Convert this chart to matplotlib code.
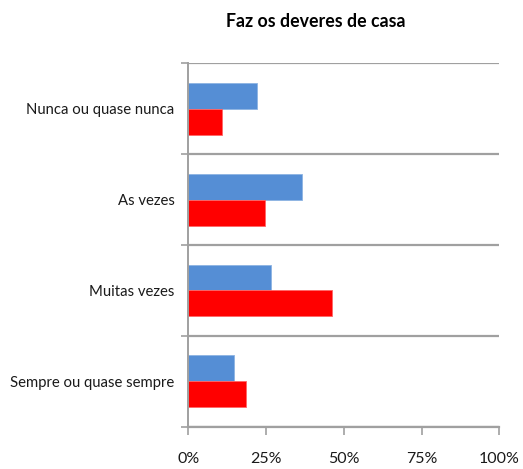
import matplotlib
matplotlib.use("Agg")
import matplotlib.pyplot as plt
import numpy as np
from matplotlib.ticker import FixedLocator, PercentFormatter

plt.rcParams["font.family"] = ["Lato", "DejaVu Sans"]

# ── Data (percent) ──
categories = ["Nunca ou quase nunca", "As vezes", "Muitas vezes", "Sempre ou quase sempre"]
blue_vals = [22.2, 36.7, 26.5, 14.8]
red_vals = [10.7, 24.7, 46.2, 18.5]
x_ticks = [0, 25, 50, 75, 100]

BLUE = "#558ED5"
RED = "#FF0000"
GRID = "#A0A0A0"

fig = plt.figure(figsize=(5.23, 4.69), dpi=100)
ax = fig.add_axes([0.360, 0.090, 0.595, 0.775])

y = np.arange(len(categories))
h = 0.285
ax.barh(y - h / 2, blue_vals, height=h, color=BLUE, edgecolor="#8DB3E2", linewidth=0.6)
ax.barh(y + h / 2, red_vals, height=h, color=RED, edgecolor="#FF6666", linewidth=0.6)

ax.set_xlim(0, 100)
ax.set_ylim(len(categories) - 0.5, -0.5)

ax.set_yticks(y)
ax.set_yticklabels(categories, fontsize=10.7, color="#1a1a1a")
ax.yaxis.set_minor_locator(FixedLocator(np.arange(-0.5, len(categories), 1.0)))
ax.tick_params(axis="y", which="major", length=0, pad=10)
ax.tick_params(axis="y", which="minor", length=5, width=1.2, color=GRID)
ax.grid(True, axis="y", which="minor", color=GRID, linewidth=1.6)

ax.set_xticks(x_ticks)
ax.xaxis.set_major_formatter(PercentFormatter(decimals=0))
ax.tick_params(axis="x", length=6, width=1.2, color=GRID, labelsize=11.5,
               labelcolor="#1a1a1a", pad=12)

for side in ["top", "right"]:
    ax.spines[side].set_visible(False)
ax.spines["left"].set_color(GRID)
ax.spines["left"].set_linewidth(1.4)
ax.spines["bottom"].set_color(GRID)
ax.spines["bottom"].set_linewidth(1.6)
ax.set_axisbelow(True)

fig.text(0.604, 0.955, "Faz os deveres de casa", ha="center", va="center",
         fontsize=12.8, fontweight="bold")

fig.savefig("out.png", dpi=100)
